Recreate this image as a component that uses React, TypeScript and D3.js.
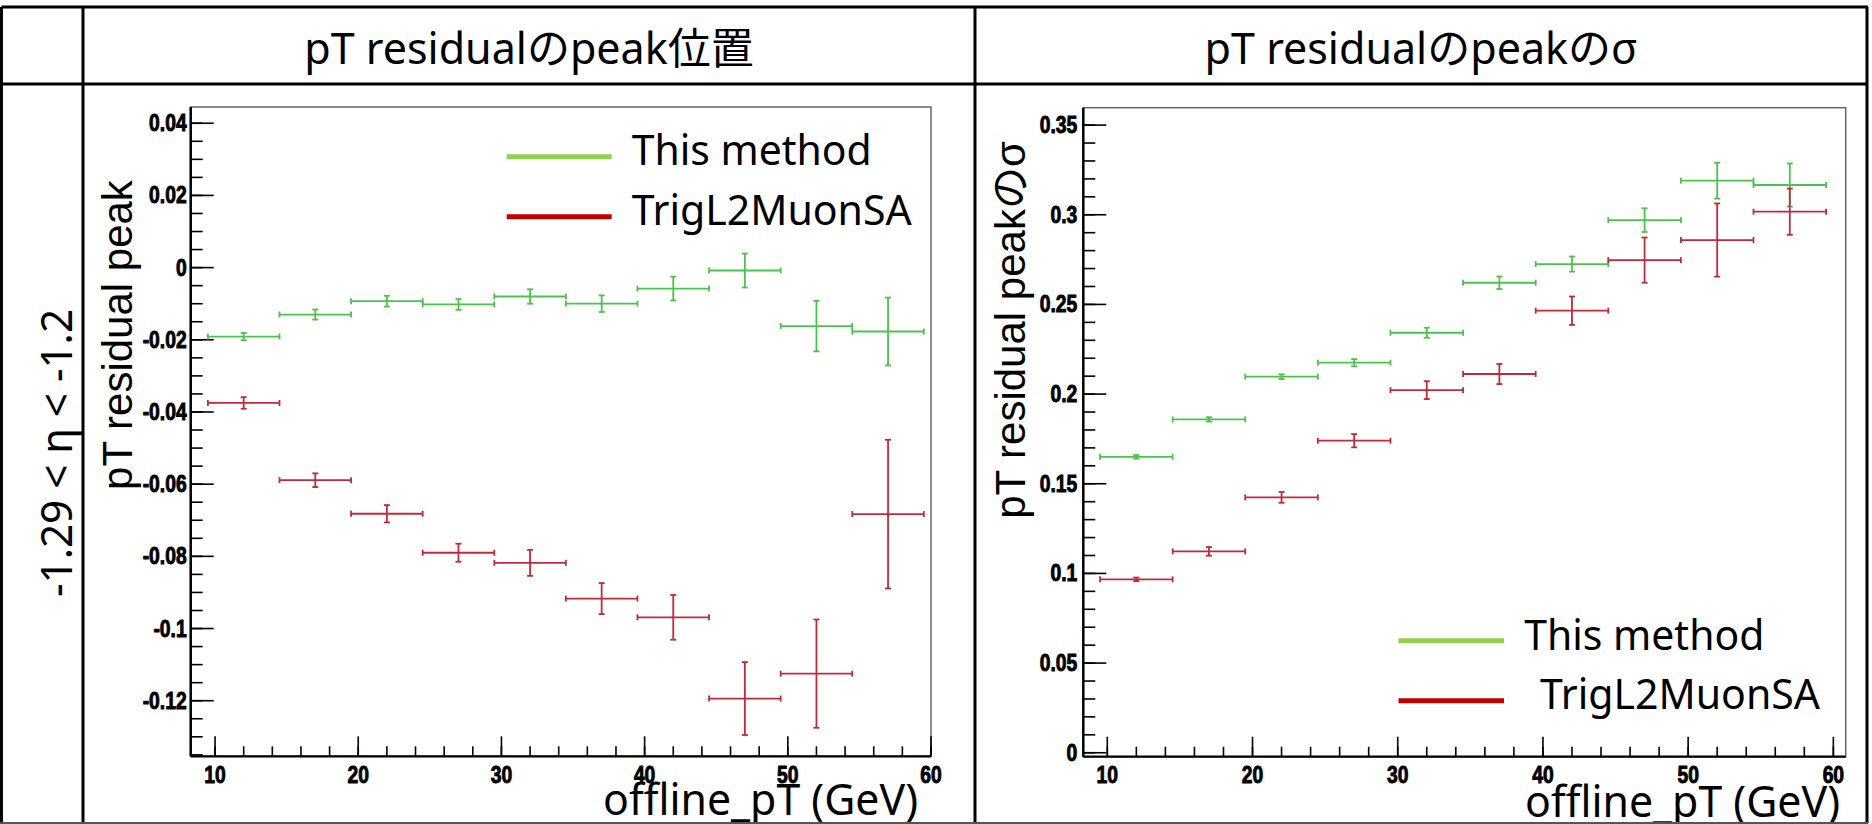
import React from 'react';
import * as d3 from 'd3';

// ---- data ----
const binCenters = [12, 17, 22, 27, 32, 37, 42, 47, 52, 57];
const binHalfWidth = 2.5;

const peakThis = [-0.0191, -0.013, -0.0093, -0.0102, -0.008, -0.01, -0.0058, -0.0008, -0.0162, -0.0177];
const peakThisErr = [0.001, 0.0014, 0.0015, 0.0015, 0.002, 0.0023, 0.0033, 0.0047, 0.007, 0.0094];
const peakL2 = [-0.0375, -0.0589, -0.0682, -0.079, -0.0818, -0.0917, -0.0969, -0.1194, -0.1125, -0.0683];
const peakL2Err = [0.0016, 0.0019, 0.0024, 0.0025, 0.0036, 0.0043, 0.0062, 0.0101, 0.015, 0.0206];

const sigmaThis = [0.165, 0.1859, 0.2097, 0.2175, 0.2342, 0.2621, 0.2725, 0.297, 0.319, 0.3166];
const sigmaThisErr = [0.001, 0.0012, 0.0013, 0.002, 0.0028, 0.0035, 0.0042, 0.0066, 0.01, 0.012];
const sigmaL2 = [0.0967, 0.1123, 0.1424, 0.174, 0.2022, 0.2112, 0.2465, 0.2747, 0.2859, 0.3017];
const sigmaL2Err = [0.001, 0.0024, 0.003, 0.0037, 0.005, 0.0056, 0.0079, 0.0126, 0.0204, 0.0129];

const xTicks = [10, 20, 30, 40, 50, 60];
const peakYTicks = [0.04, 0.02, 0, -0.02, -0.04, -0.06, -0.08, -0.1, -0.12];
const sigmaYTicks = [0.35, 0.3, 0.25, 0.2, 0.15, 0.1, 0.05, 0];

const legendLabels = ['This method', 'TrigL2MuonSA'];
const headerLabels = ['pT residualのpeak位置', 'pT residualのpeakのσ'];
const rowLabel = '-1.29 < η < -1.2';
const xTitle = 'offline_pT (GeV)';
const yTitles = ['pT residual peak', 'pT residual peakのσ'];

// ---- styles ----
const GREEN_BAR = '#4cc24c';
const RED_BAR = '#bf2a3c';
const GREEN_LEG = '#92d050';
const RED_LEG = '#c00000';
const TITLE_FONT = '"Noto Sans", "Noto Sans CJK JP", sans-serif';
const AXIS_FONT = '"Liberation Sans", "Noto Sans CJK JP", sans-serif';
const TICK_FONT = '"Liberation Sans", Arial, sans-serif';

const fmt = (v: number) => {
  const s = (Math.round(v * 1000) / 1000).toString();
  return s === '-0' ? '0' : s;
};

function minorRange(lo: number, hi: number, step: number) {
  const a = Math.ceil(lo / step - 1e-9);
  const b = Math.floor(hi / step + 1e-9);
  return d3.range(a, b + 1).map((k) => k * step);
}

type PanelProps = {
  frame: { left: number; right: number; top: number; bottom: number };
  xDomain: [number, number];
  yDomain: [number, number];
  yTicks: number[];
  yMinorStep: number;
  green: number[];
  greenErr: number[];
  red: number[];
  redErr: number[];
  legend: { x1: number; x2: number; y1: number; y2: number; tx1: number; tx2: number; b1: number; b2: number };
  yTitle: string;
  yTitleX: number;
  yTitleY: number;
  xTitleX: number;
  xTitleY: number;
  labelGap: number;
};

function ErrorBars({ xs, ys, color, values, errs }: any) {
  return (
    <g stroke={color} strokeWidth={1.8} fill="none">
      {values.map((v: number, i: number) => {
        const c = binCenters[i];
        const cx = xs(c);
        const x1 = xs(c - binHalfWidth);
        const x2 = xs(c + binHalfWidth);
        const cy = ys(v);
        const ey1 = ys(v + errs[i]);
        const ey2 = ys(v - errs[i]);
        return (
          <g key={i}>
            <line x1={x1} x2={x2} y1={cy} y2={cy} />
            <line x1={x1} x2={x1} y1={cy - 3} y2={cy + 3} />
            <line x1={x2} x2={x2} y1={cy - 3} y2={cy + 3} />
            <line x1={cx} x2={cx} y1={ey1} y2={ey2} />
            <line x1={cx - 3} x2={cx + 3} y1={ey1} y2={ey1} />
            <line x1={cx - 3} x2={cx + 3} y1={ey2} y2={ey2} />
          </g>
        );
      })}
    </g>
  );
}

function Panel(p: PanelProps) {
  const { frame } = p;
  const xs = d3.scaleLinear().domain(p.xDomain).range([frame.left, frame.right]);
  const ys = d3.scaleLinear().domain(p.yDomain).range([frame.bottom, frame.top]);
  const xMinor = minorRange(Math.max(p.xDomain[0], 10), p.xDomain[1], 2);
  const yMinor = minorRange(p.yDomain[0], p.yDomain[1], p.yMinorStep);
  return (
    <g>
      <rect x={frame.left} y={frame.top} width={frame.right - frame.left} height={frame.bottom - frame.top} fill="#fff" stroke="#666" strokeWidth={1.5} />
      <g stroke="#000" strokeWidth={1.6}>
        {yMinor.map((v, i) => (
          <line key={'ym' + i} x1={frame.left} x2={frame.left + 12} y1={ys(v)} y2={ys(v)} />
        ))}
        {p.yTicks.map((v, i) => (
          <line key={'yM' + i} x1={frame.left} x2={frame.left + 23} y1={ys(v)} y2={ys(v)} />
        ))}
        {xMinor.map((v, i) => (
          <line key={'xm' + i} x1={xs(v)} x2={xs(v)} y1={frame.bottom} y2={frame.bottom - 10} />
        ))}
        {xTicks.map((v, i) => (
          <line key={'xM' + i} x1={xs(v)} x2={xs(v)} y1={frame.bottom} y2={frame.bottom - 20} />
        ))}
      </g>
      <line x1={frame.left} x2={frame.left} y1={frame.top} y2={frame.bottom} stroke="#000" strokeWidth={2.5} />
      <line x1={frame.left} x2={frame.right} y1={frame.bottom} y2={frame.bottom} stroke="#000" strokeWidth={2.2} />
      <g fontFamily={TICK_FONT} fontSize={23} fill="#000" stroke="#000" strokeWidth={0.9}>
        {p.yTicks.map((v, i) => (
          <g key={'yl' + i} transform={`translate(${frame.left - p.labelGap},${ys(v) + 8}) scale(0.84,1)`}>
            <text textAnchor="end" fontWeight={700}>{fmt(v)}</text>
          </g>
        ))}
        {xTicks.map((v, i) => (
          <g key={'xl' + i} transform={`translate(${xs(v)},${frame.bottom + 26.5}) scale(0.84,1)`}>
            <text textAnchor="middle" fontWeight={700}>{fmt(v)}</text>
          </g>
        ))}
      </g>
      <ErrorBars xs={xs} ys={ys} color={GREEN_BAR} values={p.green} errs={p.greenErr} />
      <ErrorBars xs={xs} ys={ys} color={RED_BAR} values={p.red} errs={p.redErr} />
      <line x1={p.legend.x1} x2={p.legend.x2} y1={p.legend.y1} y2={p.legend.y1} stroke={GREEN_LEG} strokeWidth={5} />
      <line x1={p.legend.x1} x2={p.legend.x2} y1={p.legend.y2} y2={p.legend.y2} stroke={RED_LEG} strokeWidth={5} />
      <g fontFamily={TITLE_FONT} fontSize={41} fill="#000">
        <text x={p.legend.tx1} y={p.legend.b1} textLength={240} lengthAdjust="spacingAndGlyphs">{legendLabels[0]}</text>
        <text x={p.legend.tx2} y={p.legend.b2} textLength={280} lengthAdjust="spacingAndGlyphs">{legendLabels[1]}</text>
      </g>
      <text
        transform={`translate(${p.yTitleX},${p.yTitleY}) rotate(-90)`}
        textAnchor="middle"
        fontFamily={AXIS_FONT}
        fontSize={42}
        fill="#000"
      >
        {p.yTitle}
      </text>
      <text x={p.xTitleX} y={p.xTitleY} fontFamily={TITLE_FONT} fontSize={43} fill="#000" textLength={315} lengthAdjust="spacingAndGlyphs">
        {xTitle}
      </text>
    </g>
  );
}

export default function App() {
  const W = 1872;
  const H = 824;
  return (
    <svg
      width={W}
      height={H}
      viewBox={`0 0 ${W} ${H}`}
      style={{ position: 'absolute', left: 0, top: 0, background: '#fff' }}
    >
      <defs>
        <clipPath id="tbl">
          <rect x={0} y={0} width={W} height={822} />
        </clipPath>
      </defs>
      <rect x={0} y={0} width={W} height={H} fill="#fff" />
      <g clipPath="url(#tbl)">
        <Panel
          frame={{ left: 190.7, right: 931, top: 107, bottom: 756.3 }}
          xDomain={[8.3, 60]}
          yDomain={[-0.1354, 0.0445]}
          yTicks={peakYTicks}
          yMinorStep={0.005}
          green={peakThis}
          greenErr={peakThisErr}
          red={peakL2}
          redErr={peakL2Err}
          legend={{ x1: 506.7, x2: 611.7, y1: 156.7, y2: 216.7, tx1: 631.7, tx2: 631.7, b1: 165, b2: 225 }}
          yTitle={yTitles[0]}
          yTitleX={132}
          yTitleY={335}
          xTitleX={603}
          xTitleY={815}
          labelGap={4}
        />
        <Panel
          frame={{ left: 1083.3, right: 1845.7, top: 107.7, bottom: 756.7 }}
          xDomain={[8.347, 60.85]}
          yDomain={[-0.0022, 0.3597]}
          yTicks={sigmaYTicks}
          yMinorStep={0.01}
          green={sigmaThis}
          greenErr={sigmaThisErr}
          red={sigmaL2}
          redErr={sigmaL2Err}
          legend={{ x1: 1398.5, x2: 1504, y1: 640.7, y2: 700.7, tx1: 1524.3, tx2: 1540, b1: 650, b2: 709.3 }}
          yTitle={yTitles[1]}
          yTitleX={1025}
          yTitleY={330}
          xTitleX={1525}
          xTitleY={816.7}
          labelGap={6}
        />
      </g>
      <g stroke="#000" strokeWidth={3} fill="none">
        <line x1={1.5} x2={1868} y1={7} y2={7} />
        <line x1={1.5} x2={1868} y1={84} y2={84} />
        <line x1={1.5} x2={1.5} y1={7} y2={823} />
        <line x1={83} x2={83} y1={7} y2={823} />
        <line x1={975} x2={975} y1={7} y2={823} />
        <line x1={1867} x2={1867} y1={7} y2={823} />
      </g>
      <line x1={0} x2={1868} y1={823} y2={823} stroke="#555" strokeWidth={2} />
      <g fontFamily={TITLE_FONT} fontSize={43} fill="#000" textAnchor="middle">
        <text x={529} y={64}>{headerLabels[0]}</text>
        <text x={1421} y={64}>{headerLabels[1]}</text>
      </g>
      <text
        transform={`translate(72,453) rotate(-90)`}
        textAnchor="middle"
        fontFamily={TITLE_FONT}
        fontSize={44}
        fill="#000"
        textLength={288}
        lengthAdjust="spacingAndGlyphs"
      >
        {rowLabel}
      </text>
    </svg>
  );
}
